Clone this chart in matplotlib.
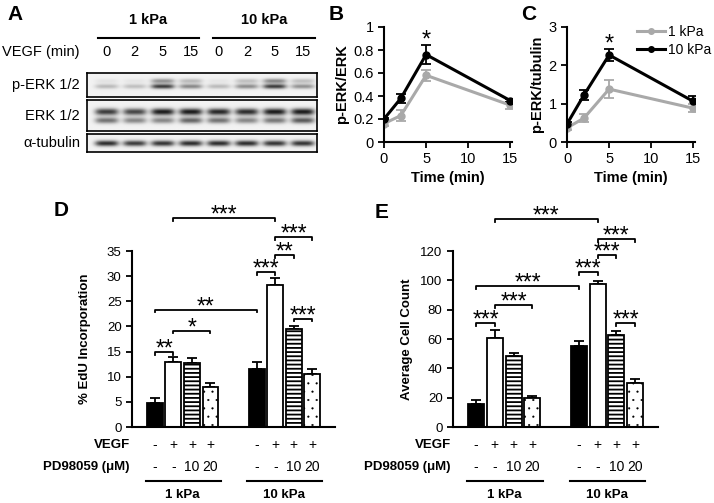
import numpy as np
import matplotlib
matplotlib.use("Agg")
import matplotlib.pyplot as plt
from matplotlib.lines import Line2D

plt.rcParams["font.family"] = ["Liberation Sans", "DejaVu Sans"]
plt.rcParams["hatch.linewidth"] = 1.3

W, H = 714, 503

# ---- panel A: western blot band darkness (0 = none, 1 = black)
lanes_min = ["0", "2", "5", "15", "0", "2", "5", "15"]
perk_lower = [0.22, 0.20, 0.72, 0.42, 0.22, 0.40, 0.72, 0.38]
perk_upper = [0.06, 0.05, 0.38, 0.22, 0.05, 0.20, 0.42, 0.20]
erk_upper = [0.72, 0.68, 0.85, 0.85, 0.80, 0.78, 0.85, 0.85]
erk_lower = [0.50, 0.42, 0.42, 0.55, 0.50, 0.42, 0.48, 0.60]
tubulin = [0.78, 0.72, 0.75, 0.78, 0.78, 0.78, 0.75, 0.75]

# ---- panels B, C: time course
time_min = [0, 2, 5, 15]
b_1kpa = [0.16, 0.23, 0.58, 0.32]
b_1kpa_err = [0.02, 0.05, 0.05, 0.03]
b_10kpa = [0.20, 0.38, 0.76, 0.36]
b_10kpa_err = [0.01, 0.04, 0.08, 0.01]
c_1kpa = [0.37, 0.62, 1.38, 0.88]
c_1kpa_err = [0.05, 0.10, 0.23, 0.10]
c_10kpa = [0.47, 1.22, 2.27, 1.06]
c_10kpa_err = [0.04, 0.13, 0.15, 0.15]

# ---- panels D, E: bars (1 kPa x4, 10 kPa x4)
vegf = ["-", "+", "+", "+"]
pd98059 = ["-", "-", "10", "20"]
groups = ["1 kPa", "10 kPa"]
edu = [4.8, 13.0, 12.7, 7.9, 11.5, 28.3, 19.4, 10.5]
edu_err = [1.0, 0.9, 1.1, 0.8, 1.5, 1.4, 0.6, 1.0]
cells = [15.7, 60.7, 48.4, 19.8, 55.0, 97.3, 62.7, 30.0]
cells_err = [2.7, 5.3, 2.1, 1.5, 3.7, 2.2, 2.8, 3.0]

# significance brackets: (bar i, bar j, height, label)
edu_sig = [(0, 1, 14.9, "**"), (1, 3, 19.1, "*"), (0, 4, 23.3, "**"),
           (4, 5, 30.8, "***"), (5, 6, 34.2, "**"), (5, 7, 37.7, "***"),
           (1, 5, 41.5, "***"), (6, 7, 21.5, "***")]
cells_sig = [(0, 1, 70.7, "***"), (1, 3, 83.0, "***"), (0, 4, 96.0, "***"),
             (4, 5, 105.4, "***"), (5, 6, 117.0, "***"), (5, 7, 128.0, "***"),
             (1, 5, 141.5, "***"), (6, 7, 70.7, "***")]

GRAY = "#a9a9a9"


def box(l, t, r, b):
    return [l / W, 1 - b / H, (r - l) / W, (b - t) / H]


def ftext(x, y, s, **kw):
    fig.text(x / W, 1 - y / H, s, **kw)


def blot_image(bands, nx=400, ny=60):
    x = np.linspace(-0.7, 7.5, nx)
    y = np.linspace(0, 1, ny)
    img = np.full((ny, nx), 0.05)
    for yc, sig, amps in bands:
        prof_y = np.exp(-((y - yc) / sig) ** 2)
        for i, a in enumerate(amps):
            prof_x = np.exp(-np.abs((x - i) / 0.42) ** 4)
            img += a * np.outer(prof_y, prof_x)
    return np.clip(img, 0, 1)


fig = plt.figure(figsize=(W / 100, H / 100), dpi=100)

# ---------------- panel A
blots = [
    ("p-ERK 1/2", (73, 97), [(0.33, 0.10, perk_upper), (0.56, 0.10, perk_lower)]),
    ("ERK 1/2", (100, 131), [(0.38, 0.11, erk_upper), (0.66, 0.10, erk_lower)]),
    ("\u03b1-tubulin", (134, 152), [(0.52, 0.16, tubulin)]),
]
for name, (t, b), bands in blots:
    ax = fig.add_axes(box(87, t, 317, b))
    ax.imshow(blot_image(bands), cmap="gray_r", vmin=0, vmax=1, aspect="auto",
              extent=[-0.7, 7.5, 1, 0], interpolation="bilinear")
    ax.set_xticks([])
    ax.set_yticks([])
    for sp in ax.spines.values():
        sp.set_linewidth(1.2)
    ftext(80, (t + b) / 2, name, ha="right", va="center", fontsize=10.5)

lane_px = [87 + 230 * (i + 0.7) / 8.2 for i in range(8)]
ftext(80, 52, "VEGF (min)", ha="right", va="center", fontsize=10.5)
for xp, lab in zip(lane_px, lanes_min):
    ftext(xp, 52, lab, ha="center", va="center", fontsize=10.5)
for g, (x0, x1) in zip(groups, [(98, 199), (213, 315)]):
    ftext((x0 + x1) / 2, 20, g, ha="center", va="center", fontsize=10.5,
          fontweight="bold")
    fig.add_artist(plt.Line2D([x0 / W, x1 / W], [1 - 38 / H, 1 - 38 / H],
                              color="black", lw=1.5))

# ---------------- panels B, C
def time_axes(rect, y1, y1e, y2, y2e, ylim, yticks, ylabels, ylabel, star_y):
    ax = fig.add_axes(rect)
    ax.errorbar(time_min, y1, yerr=y1e, color=GRAY, marker="o", ms=5, lw=2.2,
                capsize=3.5, elinewidth=1.3, capthick=1.3)
    ax.errorbar(time_min, y2, yerr=y2e, color="black", marker="o", ms=5, lw=2.2,
                capsize=3.5, elinewidth=1.3, capthick=1.3)
    ax.set_xlim(0, 15.2)
    ax.set_ylim(*ylim)
    ax.set_xticks([0, 5, 10, 15])
    ax.set_yticks(yticks)
    ax.set_yticklabels(ylabels)
    ax.tick_params(labelsize=10.5, direction="out", length=4, width=1.3)
    for s in ["top", "right"]:
        ax.spines[s].set_visible(False)
    for s in ["left", "bottom"]:
        ax.spines[s].set_linewidth(1.5)
    ax.set_xlabel("Time (min)", fontsize=10.5, fontweight="bold", labelpad=3)
    ax.set_ylabel(ylabel, fontsize=10.5, fontweight="bold", labelpad=3)
    ax.text(5, star_y, "*", ha="center", va="center", fontsize=17)
    return ax


time_axes(box(384, 27, 512, 142), b_1kpa, b_1kpa_err, b_10kpa, b_10kpa_err,
          (0, 1), [0, 0.2, 0.4, 0.6, 0.8, 1],
          ["0", "0.2", "0.4", "0.6", "0.8", "1"], "p-ERK/ERK", 0.88)
axc = time_axes(box(567, 27, 695, 142), c_1kpa, c_1kpa_err, c_10kpa, c_10kpa_err,
                (0, 3), [0, 1, 2, 3], ["0", "1", "2", "3"], "p-ERK/tubulin", 2.55)
handles = [Line2D([], [], color=GRAY, marker="o", ms=4, lw=2.2),
           Line2D([], [], color="black", marker="o", ms=4, lw=2.2)]
axc.legend(handles, groups, loc="upper left",
           bbox_to_anchor=(637 / W, 1 - 25 / H),
           bbox_transform=fig.transFigure, frameon=False, fontsize=10,
           handlelength=2.0, handletextpad=0.2, labelspacing=0.3,
           borderpad=0, borderaxespad=0)

# ---------------- panels D, E
pos = [0, 1, 2, 3, 5.5, 6.5, 7.5, 8.5]
styles = [dict(color="black"), dict(color="white"),
          dict(color="white", hatch="----"), dict(color="white", hatch="..")]


def bar_axes(rect, vals, errs, sig, ylim, yticks, ylabel, labelpad):
    ax = fig.add_axes(rect)
    for k, (p, v, e) in enumerate(zip(pos, vals, errs)):
        st = styles[k % 4]
        bars = ax.bar(p, v, width=0.86, facecolor=st["color"], edgecolor="black",
                      hatch=st.get("hatch"), lw=1.3, zorder=2)
        if st.get("hatch") == "..":
            try:
                bars[0].set_hatch_linewidth(0.3)
            except AttributeError:
                pass
        ax.errorbar(p, v, yerr=[[0], [e]], color="black", capsize=3.5,
                    elinewidth=1.3, capthick=1.3, zorder=1)
    ax.set_xlim(-1.24, 9.73)
    ax.set_ylim(*ylim)
    ax.set_yticks(yticks)
    ax.set_xticks([])
    ax.tick_params(labelsize=9.5, direction="out", length=4, width=1.3)
    for s in ["top", "right"]:
        ax.spines[s].set_visible(False)
    for s in ["left", "bottom"]:
        ax.spines[s].set_linewidth(1.5)
    ax.set_ylabel(ylabel, fontsize=9.5, fontweight="bold", labelpad=labelpad)

    tick = (ylim[1] - ylim[0]) * 2.5 / 176
    for i, j, h, lab in sig:
        ax.plot([pos[i], pos[i], pos[j], pos[j]], [h - tick, h, h, h - tick],
                color="black", lw=1.3, clip_on=False)
        ax.annotate(lab, ((pos[i] + pos[j]) / 2, h), xytext=(0, -2.5),
                    textcoords="offset points", ha="center", va="baseline",
                    fontsize=16.5, annotation_clip=False)

    tr = ax.get_xaxis_transform()
    ax.text(-0.01, -0.102, "VEGF", transform=ax.transAxes, ha="right",
            va="center", fontsize=9.5, fontweight="bold")
    ax.text(-0.01, -0.227, "PD98059 (\u03bcM)", transform=ax.transAxes,
            ha="right", va="center", fontsize=9.5, fontweight="bold")
    for k, p in enumerate(pos):
        ax.text(p, -0.102, vegf[k % 4], transform=tr, ha="center", va="center",
                fontsize=10)
        ax.text(p, -0.227, pd98059[k % 4], transform=tr, ha="center",
                va="center", fontsize=10)
    for g, start in zip(groups, [0, 5.5]):
        ax.plot([start - 0.5, start + 3.55], [-0.307, -0.307], transform=tr,
                color="black", lw=1.5, clip_on=False)
        ax.text(start + 1.5, -0.385, g, transform=tr, ha="center", va="center",
                fontsize=9.5, fontweight="bold")
    return ax


bar_axes(box(132, 251, 335, 427), edu, edu_err, edu_sig, (0, 35),
         range(0, 36, 5), "% EdU Incorporation", 11)
bar_axes(box(453, 251, 658, 427), cells, cells_err, cells_sig, (0, 120),
         range(0, 121, 20), "Average Cell Count", 5)

# panel letters
for lab, x, y in [("A", 15, 15), ("B", 336, 15), ("C", 529, 15),
                  ("D", 61, 211), ("E", 382, 212)]:
    ftext(x, y, lab, ha="center", va="center", fontsize=15, fontweight="bold")

fig.savefig("out.png", dpi=100)
